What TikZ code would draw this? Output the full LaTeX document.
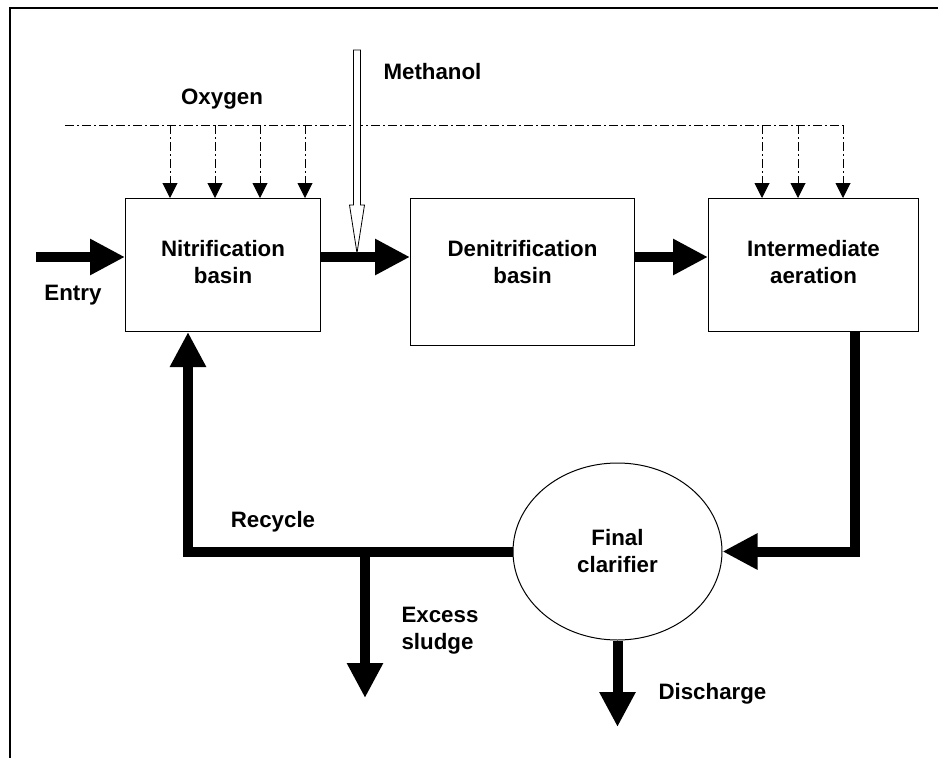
\documentclass[tikz,border=0pt]{standalone}
\usepackage{fontspec}
\setmainfont{Liberation Sans}
\usepackage{tikz}
\usetikzlibrary{positioning,arrows.meta,shapes.geometric,calc}

\begin{document}
\begin{tikzpicture}[
    x=1pt, y=-1pt,
    font=\fontsize{22.3}{27}\selectfont\bfseries,
    basin/.style  ={draw, line width=1pt, align=center, anchor=north west,
                    inner sep=0pt, text height=85pt},
    flow/.style   ={line width=10pt, miter limit=4,
                    -{Triangle[length=35pt,width=34pt]}},
    oxline/.style ={line width=1pt, dash pattern=on 9pt off 3pt on 2pt off 3pt},
    oxarrow/.style={oxline, -{Triangle[length=15pt,width=15pt]}},
    tag/.style    ={anchor=base, align=left}
]
\useasboundingbox (0,0) rectangle (938,758);

% --- frame ---
\draw[line width=2.2pt] (10,758) -- (10,8) -- (938,8);

% --- basins ---
\node[basin, minimum width=195pt, text depth=48pt] (nitri) at (125,198)
    {Nitrification\\basin};
\node[basin, minimum width=224pt, text depth=62pt,
      right=89pt of nitri.north east, anchor=north west] (denitri)
    {Denitrification\\basin};
\node[basin, minimum width=210pt, text depth=48pt,
      right=73pt of denitri.north east, anchor=north west] (inter)
    {Intermediate\\aeration};

% --- clarifier ---
\node[ellipse, draw, line width=1pt, align=center, inner sep=0pt,
      minimum width=209pt, minimum height=177pt] (clar) at (617.5,551.5)
    {Final\\clarifier};

% --- free ends ---
\coordinate (entry)  at (36,257);
\coordinate (split)  at (365,551.5);
\coordinate (sludge) at (365,698);
\coordinate (dis)    at (617.5,727);
\coordinate (meth)   at (357,50);
\coordinate (mtip)   at (357,253);

% --- main flow ---
\draw[flow] (entry) -- (nitri.west |- entry);
\draw[flow] (nitri.east |- entry) -- (denitri.west |- entry);
\draw[flow] (denitri.east |- entry) -- (inter.west |- entry);
\draw[flow] ($(inter.south east)+(-64,0)$) |- (clar.east);
\draw[flow] (clar.west) -| ($(nitri.south west)+(63,0)$);
\draw[flow] (split) -- (sludge);
\draw[flow] (clar.south) -- (dis);

% --- oxygen supply ---
\draw[oxline] ($(nitri.north west)+(-60,-73)$) -- ($(inter.north west)+(135,-73)$);
\foreach \dx in {45,90,135,180}
    \draw[oxarrow] ($(nitri.north west)+(\dx,-73)$) -- ($(nitri.north west)+(\dx,0)$);
\foreach \dx in {54,90,135}
    \draw[oxarrow] ($(inter.north west)+(\dx,-73)$) -- ($(inter.north west)+(\dx,0)$);

% --- methanol dosing (hollow arrow) ---
\draw[line width=0.8pt, fill=white]
    ($(meth)+(-3.5,0)$) -- ($(meth)+(3.5,0)$) -- ($(meth)+(3.5,155)$)
    -- ($(meth)+(7.5,155)$) -- (mtip) -- ($(meth)+(-7.5,155)$)
    -- ($(meth)+(-3.5,155)$) -- cycle;

% --- labels ---
\node[tag] (lentry)   at (73,300)  {Entry};
\node[tag] (loxygen)  at (222,104) {Oxygen};
\node[tag, anchor=base west] (lmeth) at (380,79) {Methanol};
\node[tag] (lrecycle) at (273,527) {Recycle};
\node[tag, anchor=base west] (lsludge) at (398,649) {Excess\\sludge};
\node[tag, anchor=base west] (ldis) at (655,699) {Discharge};

\end{tikzpicture}
\end{document}
